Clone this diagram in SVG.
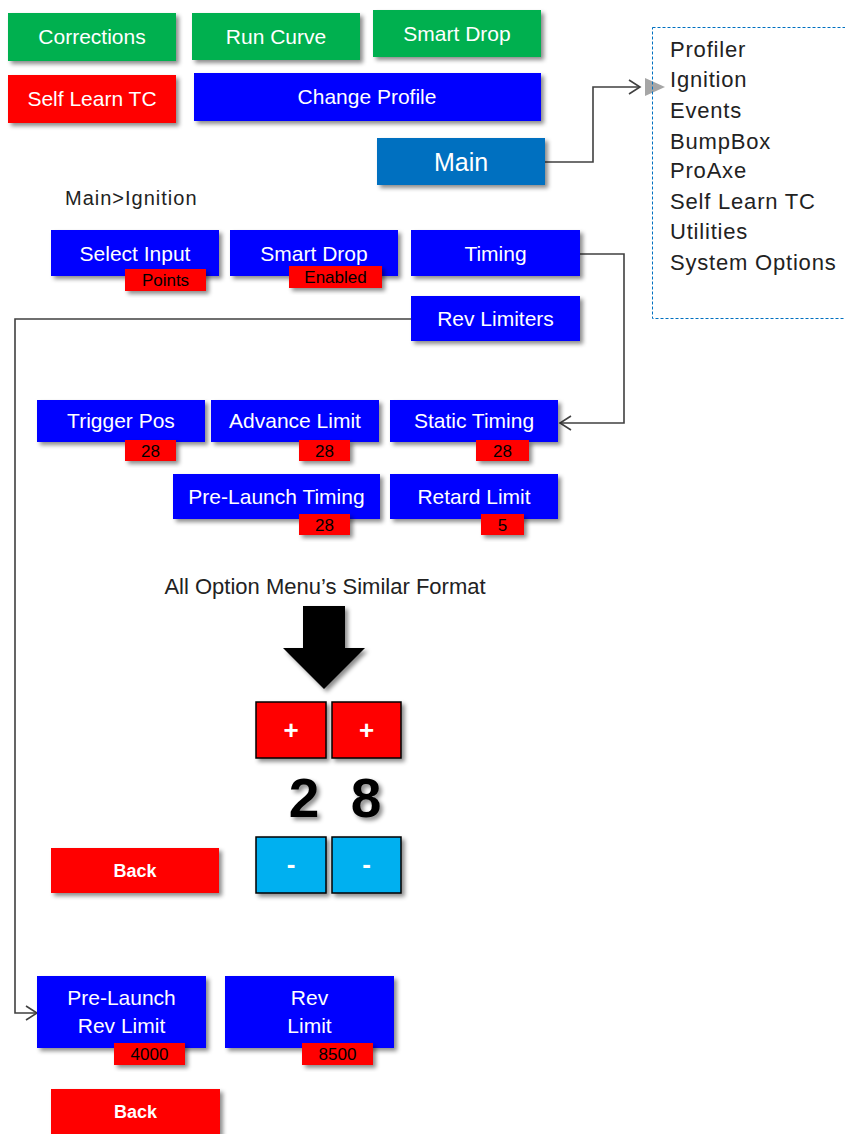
<svg xmlns="http://www.w3.org/2000/svg" width="845" height="1134" viewBox="0 0 845 1134">
<defs>
<filter id="sh" x="-10%" y="-10%" width="130%" height="140%">
<feDropShadow dx="3" dy="3" stdDeviation="2" flood-color="#000" flood-opacity="0.45"/>
</filter>
<marker id="open" markerWidth="14" markerHeight="16" refX="12" refY="8" orient="auto" markerUnits="userSpaceOnUse">
<path d="M1,1 L12,8 L1,15" fill="none" stroke="#404040" stroke-width="1.6"/>
</marker>
<style>
.g{fill:#00B050}.r{fill:#FF0000}.b{fill:#0000FF}.m{fill:#0070C0}.c{fill:#00B0F0}
rect.s{filter:url(#sh)}
.k{stroke:#000;stroke-width:1.5}
.t{fill:#fff;font-family:"Liberation Sans",Arial,sans-serif;font-size:21px;text-anchor:middle}
.bt{fill:#000;font-family:"Liberation Sans",Arial,sans-serif;font-size:17px;text-anchor:middle}
.bk{fill:#fff;font-family:"Liberation Sans",Arial,sans-serif;font-size:18px;font-weight:bold;text-anchor:middle}
.pm{fill:#fff;font-family:"Liberation Sans",Arial,sans-serif;font-size:26px;font-weight:bold;text-anchor:middle}
.lbl{fill:#222;font-family:"Liberation Sans",Arial,sans-serif}
.ln{fill:none;stroke:#404040;stroke-width:1.6}
</style>
</defs>
<rect width="845" height="1134" fill="#fff"/>

<g id="connectors">
<polyline class="ln" points="545,162 593,162 593,87 640,87" marker-end="url(#open)"/>
<polygon points="645,78 665,87 645,96" fill="#A6A6A6"/>
<polyline class="ln" points="580,254 624,254 624,423 560,423" marker-end="url(#open)"/>
<polyline class="ln" points="411,319 15,319 15,1013 37,1013" marker-end="url(#open)"/>
</g>

<g id="corrections"><rect class="g s" x="8" y="13" width="168" height="48"/><text class="t" x="92" y="44">Corrections</text></g>
<g id="run-curve"><rect class="g s" x="192" y="13" width="168" height="47"/><text class="t" x="276" y="44">Run Curve</text></g>
<g id="smart-drop-top"><rect class="g s" x="373" y="10" width="168" height="47"/><text class="t" x="457" y="41">Smart Drop</text></g>
<g id="self-learn-tc"><rect class="r s" x="8" y="75" width="168" height="48"/><text class="t" x="92" y="106">Self Learn TC</text></g>
<g id="change-profile"><rect class="b s" x="194" y="73" width="347" height="48"/><text class="t" x="367" y="104">Change Profile</text></g>
<g id="main"><rect class="m s" x="377" y="138" width="168" height="47"/><text class="t" x="461" y="171" style="font-size:25px">Main</text></g>

<g id="main-menu">
<rect x="652.5" y="27.5" width="200" height="291" fill="none" stroke="#0070C0" stroke-width="1" stroke-dasharray="3 2"/>
<g class="lbl" font-size="22" letter-spacing="0.8">
<text x="670" y="57">Profiler</text>
<text x="670" y="87">Ignition</text>
<text x="670" y="118">Events</text>
<text x="670" y="149">BumpBox</text>
<text x="670" y="178">ProAxe</text>
<text x="670" y="209">Self Learn TC</text>
<text x="670" y="239">Utilities</text>
<text x="670" y="270">System Options</text>
</g>
</g>

<g id="breadcrumb"><text class="lbl" x="65" y="205" font-size="20" letter-spacing="1">Main&gt;Ignition</text></g>

<g id="select-input"><rect class="b s" x="51" y="230" width="168" height="46"/><text class="t" x="135" y="261">Select Input</text>
<rect class="r s" x="125" y="269" width="81" height="22"/><text class="bt" x="165.5" y="286">Points</text></g>
<g id="smart-drop"><rect class="b s" x="230" y="230" width="168" height="46"/><text class="t" x="314" y="261">Smart Drop</text>
<rect class="r s" x="289" y="266" width="93" height="22"/><text class="bt" x="335.5" y="283">Enabled</text></g>
<g id="timing"><rect class="b s" x="411" y="230" width="169" height="46"/><text class="t" x="495.5" y="261">Timing</text></g>
<g id="rev-limiters"><rect class="b s" x="411" y="296" width="169" height="45"/><text class="t" x="495.5" y="326">Rev Limiters</text></g>

<g id="trigger-pos"><rect class="b s" x="37" y="400" width="168" height="42"/><text class="t" x="121" y="428">Trigger Pos</text>
<rect class="r s" x="125" y="440" width="51" height="21"/><text class="bt" x="150.5" y="457">28</text></g>
<g id="advance-limit"><rect class="b s" x="211" y="400" width="168" height="42"/><text class="t" x="295" y="428">Advance Limit</text>
<rect class="r s" x="299" y="440" width="51" height="21"/><text class="bt" x="324.5" y="457">28</text></g>
<g id="static-timing"><rect class="b s" x="390" y="400" width="168" height="42"/><text class="t" x="474" y="428">Static Timing</text>
<rect class="r s" x="476" y="440" width="53" height="21"/><text class="bt" x="502.5" y="457">28</text></g>
<g id="pre-launch-timing"><rect class="b s" x="173" y="474" width="207" height="45"/><text class="t" x="276.5" y="504">Pre-Launch Timing</text>
<rect class="r s" x="299" y="514" width="51" height="21"/><text class="bt" x="324.5" y="531">28</text></g>
<g id="retard-limit"><rect class="b s" x="390" y="474" width="168" height="45"/><text class="t" x="474" y="504">Retard Limit</text>
<rect class="r s" x="481" y="514" width="43" height="21"/><text class="bt" x="502.5" y="531">5</text></g>

<g id="option-format">
<text class="lbl" x="325" y="594" font-size="22" text-anchor="middle">All Option Menu’s Similar Format</text>
<path d="M303,606 H345 V648 H365 L324,689 L283,648 H303 Z" fill="#000" filter="url(#sh)"/>
</g>
<g id="plus-1"><rect class="r k s" x="256" y="702" width="70" height="56"/><text class="pm" x="291" y="739">+</text></g>
<g id="plus-2"><rect class="r k s" x="332" y="702" width="69" height="56"/><text class="pm" x="366.5" y="739">+</text></g>
<g id="value"><text x="304" y="817" font-family="Liberation Sans, Arial, sans-serif" font-size="55" font-weight="bold" text-anchor="middle" filter="url(#sh)">2</text><text x="366" y="817" font-family="Liberation Sans, Arial, sans-serif" font-size="55" font-weight="bold" text-anchor="middle" filter="url(#sh)">8</text></g>
<g id="minus-1"><rect class="c k s" x="256" y="837" width="70" height="56"/><text class="pm" x="291" y="873">-</text></g>
<g id="minus-2"><rect class="c k s" x="332" y="837" width="69" height="56"/><text class="pm" x="366.5" y="873">-</text></g>
<g id="back-1"><rect class="r s" x="51" y="848" width="168" height="45"/><text class="bk" x="135" y="877">Back</text></g>

<g id="pre-launch-rev-limit"><rect class="b s" x="37" y="976" width="169" height="72"/><text class="t" x="121.5" y="1005">Pre-Launch</text><text class="t" x="121.5" y="1033">Rev Limit</text>
<rect class="r s" x="114" y="1043" width="71" height="22"/><text class="bt" x="149.5" y="1060">4000</text></g>
<g id="rev-limit"><rect class="b s" x="225" y="976" width="169" height="72"/><text class="t" x="309.5" y="1005">Rev</text><text class="t" x="309.5" y="1033">Limit</text>
<rect class="r s" x="302" y="1043" width="71" height="22"/><text class="bt" x="337.5" y="1060">8500</text></g>
<g id="back-2"><rect class="r s" x="51" y="1089" width="169" height="46"/><text class="bk" x="135.5" y="1118">Back</text></g>
</svg>
